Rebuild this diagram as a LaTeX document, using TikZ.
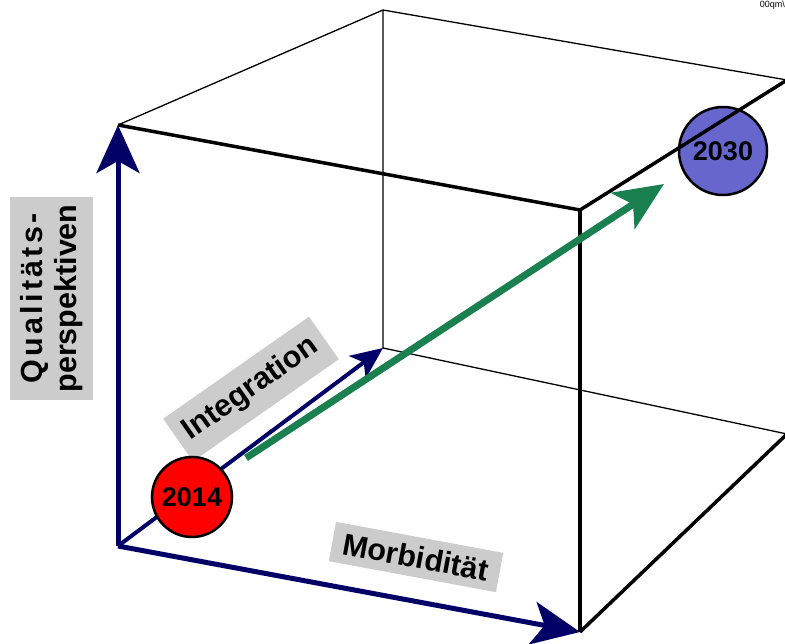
\documentclass[tikz,border=0pt]{standalone}
\usepackage{fontspec}
\setmainfont{Liberation Sans}
\usetikzlibrary{arrows.meta}
\definecolor{navy}{HTML}{000066}
\definecolor{dgreen}{HTML}{1B8050}
\definecolor{lgray}{HTML}{CCCCCC}
\definecolor{violet2}{HTML}{6666CC}
\tikzset{
  thinedge/.style={line width=1.3pt, black},
  thickedge/.style={line width=3.5pt, black},
  bluearrow/.style={line width=5pt, navy, -{Stealth[length=48pt,width=43pt,inset=12pt]}},
  smallbluearrow/.style={line width=4pt, navy, -{Stealth[length=32pt,width=28pt,inset=8pt]}},
  greenarrow/.style={line width=7pt, dgreen, -{Stealth[length=49pt,width=43pt,inset=12pt]}},
  labelbox/.style={fill=lgray, inner sep=0pt, font=\fontsize{30.5}{34}\selectfont\bfseries, align=center},
  yearcircle/.style={circle, draw=black, line width=2.5pt, inner sep=0pt, font=\fontsize{27}{30}\selectfont\bfseries}
}
\begin{document}
\begin{tikzpicture}[x=1pt,y=-1pt]
\useasboundingbox (0,0) rectangle (785,644);
\clip (0,0) rectangle (785,644);
% cube vertices
\coordinate (O) at (118,546);
\coordinate (A) at (118,125);
\coordinate (B) at (580,632);
\coordinate (C) at (580,210);
\coordinate (D) at (383,10);
\coordinate (E) at (383,348);
\coordinate (F) at (787,80);
\coordinate (G) at (787,434);
% thin back edges
\draw[thinedge] (A) -- (D) -- (F);
\draw[thinedge] (D) -- (E) -- (G);
% blue axes
\draw[bluearrow] (O) -- (A);
\draw[bluearrow] (O) -- (B);
\draw[smallbluearrow] (O) -- (E);
% label boxes
\node[labelbox, rotate=90, minimum width=203pt, minimum height=83pt] (qual) at (51.5,298.5) {{\addfontfeature{LetterSpace=11}Qualitäts-}\\perspektiven};
\node[labelbox, rotate=35, minimum width=178pt, minimum height=52pt] (integ) at (251,389) {Integration};
\node[labelbox, rotate=-10.5, minimum width=170pt, minimum height=40pt] (morb) at (416,557) {Morbidität};
% circles
\node[yearcircle, fill=red, minimum size=80pt] (y2014) at (192,497) {2014};
\node[yearcircle, fill=violet2, minimum size=88pt] (y2030) at (723,151) {2030};
% thick front edges
\draw[thickedge] (A) -- (C);
\draw[thickedge] (C) -- (B);
\draw[thickedge] (C) -- (F);
\draw[thickedge] (B) -- (G);
% green arrow
\coordinate (gs) at (246,458);
\coordinate (ge) at (664,184);
\draw[greenarrow] (gs) -- (ge);
% corner text
\node[anchor=east, inner sep=0pt, font=\fontsize{9}{10}\selectfont] (code) at (785,5) {00qm\textbackslash};
\end{tikzpicture}
\end{document}
